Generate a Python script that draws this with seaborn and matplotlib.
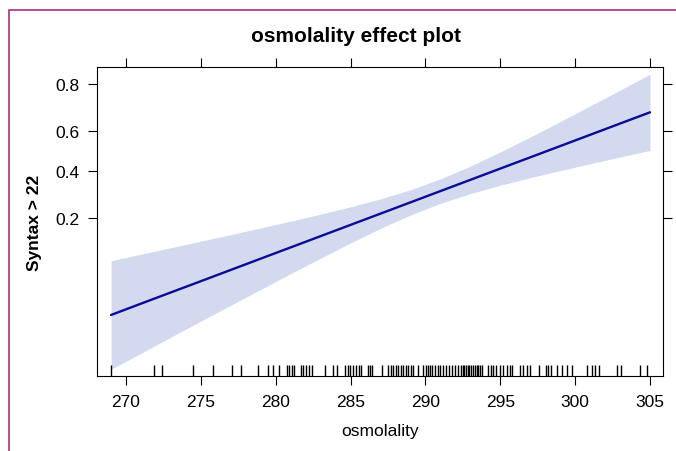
import matplotlib
matplotlib.use("Agg")
import matplotlib.pyplot as plt
import matplotlib.patches as mpatches
from matplotlib.ticker import NullLocator, FixedLocator, FixedFormatter
import seaborn as sns
import numpy as np

# ---- data ----
osmolality = [269, 271, 273, 275, 277, 279, 281, 283, 285, 287, 289, 291,
              293, 295, 297, 299, 301, 303, 305]
fit = [0.0329, 0.0412, 0.0514, 0.0639, 0.0793, 0.0980, 0.1205, 0.1473,
       0.1789, 0.2155, 0.2573, 0.3041, 0.3553, 0.4100, 0.4670, 0.5250,
       0.5822, 0.6374, 0.6891]
upper = [0.0942, 0.1064, 0.1198, 0.1347, 0.1512, 0.1698, 0.1905, 0.2137,
         0.2401, 0.2713, 0.3100, 0.3599, 0.4224, 0.4948, 0.5713, 0.6468,
         0.7167, 0.7778, 0.8294]
lower = [0.0110, 0.0152, 0.0211, 0.0291, 0.0400, 0.0545, 0.0739, 0.0989,
         0.1306, 0.1685, 0.2108, 0.2535, 0.2934, 0.3303, 0.3656, 0.4001,
         0.4344, 0.4688, 0.5027]
rug_values = [269.0, 271.87, 272.4, 274.5, 275.8, 277.1, 277.7, 278.8, 279.5,
              279.8, 280.2, 280.74, 280.91, 281.07, 281.22, 281.67, 281.85,
              282.03, 282.21, 282.41, 283.3, 283.85, 284.08, 284.63, 284.81,
              284.97, 285.15, 285.37, 285.55, 285.72, 286.13, 286.3, 286.44,
              287.08, 287.52, 287.68, 287.86, 288.04, 288.19, 288.35, 288.53,
              288.71, 288.86, 289.02, 289.2, 289.53, 289.86, 290.02, 290.15,
              290.31, 290.46, 290.64, 290.82, 290.98, 291.2, 291.38, 291.56,
              291.76, 291.98, 292.2, 292.36, 292.54, 292.6, 292.71, 292.82,
              292.93, 293.04, 293.16, 293.31, 293.42, 293.53, 293.65, 293.76,
              294.2, 294.36, 294.54, 294.72, 294.98, 295.16, 295.43, 295.65,
              295.81, 296.32, 296.54, 296.76, 296.99, 297.61, 298.06, 298.21,
              298.37, 298.77, 299.1, 299.43, 299.77, 300.77, 301.1, 301.33,
              301.62, 302.77, 303.04, 304.33, 304.78]
x_ticks = [270, 275, 280, 285, 290, 295, 300, 305]
y_ticks = [0.2, 0.4, 0.6, 0.8]
y_tick_labels = ["0.2", "0.4", "0.6", "0.8"]
title = "osmolality effect plot"
x_label = "osmolality"
y_label = "Syntax > 22"

# ---- style ----
sns.set_style("white")
plt.rcParams["font.family"] = ["Liberation Sans", "DejaVu Sans"]
plt.rcParams["text.color"] = "black"
plt.rcParams["axes.labelcolor"] = "black"

W, H = 676, 452
fig = plt.figure(figsize=(W / 100, H / 100), dpi=100)
ax = fig.add_axes([97.3 / W, 1 - 377.3 / H, (663.3 - 97.3) / W, (377.3 - 68.3) / H])

ax.fill_between(osmolality, lower, upper, color="#d3d9ef", linewidth=0, zorder=1)
sns.lineplot(x=osmolality, y=fit, ax=ax, color="#0b0b96", linewidth=1.7, zorder=3)
sns.rugplot(x=rug_values, ax=ax, height=0.036, color="black", linewidth=1.0,
            expand_margins=False, zorder=4)

ax.set_yscale("logit")
ax.set_xlim(268.08, 305.89)
ax.set_ylim(0.00952, 0.8486)
ax.yaxis.set_major_locator(FixedLocator(y_ticks))
ax.yaxis.set_major_formatter(FixedFormatter(y_tick_labels))
ax.yaxis.set_minor_locator(NullLocator())
ax.set_xticks(x_ticks)
ax.set_xticklabels([str(t) for t in x_ticks])
ax.xaxis.set_minor_locator(NullLocator())

ax.tick_params(axis="both", which="major", direction="out", length=6.5,
               width=0.8, color="black", labelsize=12.5, labelcolor="black",
               top=True, right=True, bottom=True, left=True,
               labeltop=False, labelright=False)
ax.tick_params(axis="x", pad=6)
ax.tick_params(axis="y", pad=6)
for s in ax.spines.values():
    s.set_visible(True)
    s.set_color("black")
    s.set_linewidth(0.8)

ax.set_xlabel(x_label, fontsize=12.5, labelpad=10, color="black")
ax.set_ylabel(y_label, fontsize=12.5, fontweight="bold", labelpad=10, color="black")
fig.text(356 / W, 1 - 36 / H, title, ha="center", va="center",
         fontsize=15, fontweight="bold", color="black")

# magenta page frame
fig.patches.append(mpatches.Rectangle((8.5 / W, -0.1), 1.2, 1 - 10.5 / H + 0.1,
                                      transform=fig.transFigure, fill=False,
                                      edgecolor="#a8307e", linewidth=1.2))

fig.savefig("out.png", dpi=100)
